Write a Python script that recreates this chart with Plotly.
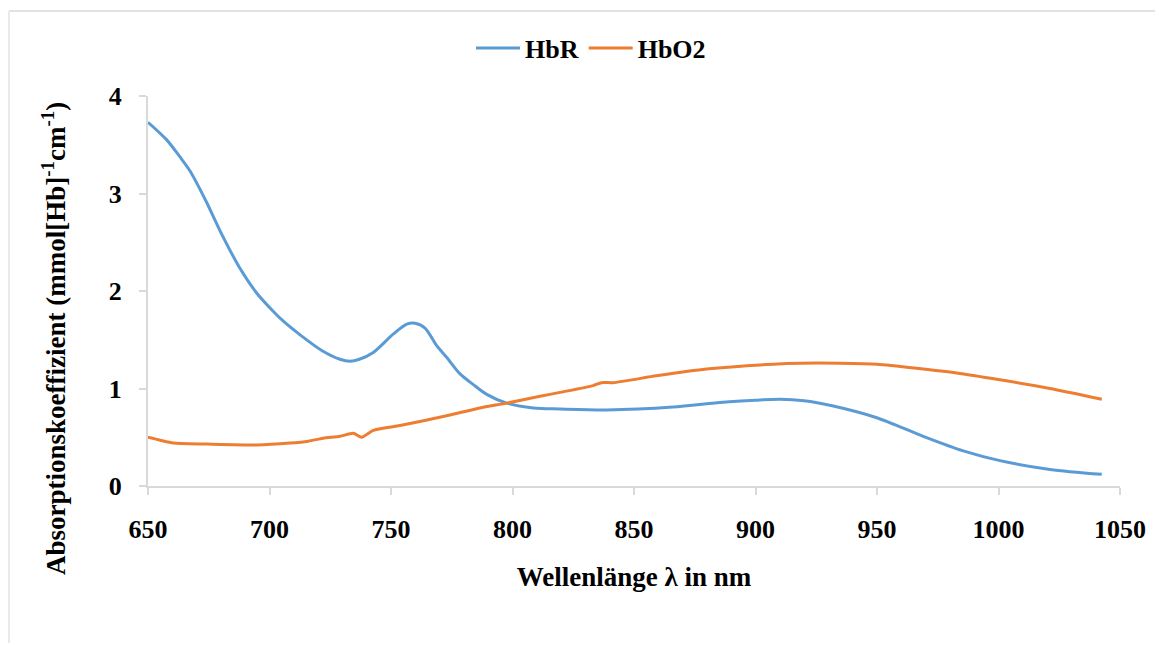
import plotly.graph_objects as go

# HbR (deoxy-hemoglobin) absorption coefficient
hbr_wl = [650, 657.7, 663, 667.3, 674.1, 679.6, 687.9, 694.7, 701.6, 705.7, 712.6, 721.5, 729,
          733.1, 737, 742.7, 751, 756.5, 759.9, 764, 768.8, 772.9, 778.4, 783.9, 789.4,
          797.6, 808.6, 819.5, 838.7, 866, 886.6, 900, 910, 920, 932, 949.9, 969, 985.5,
          1000.6, 1021.2, 1042.5]
hbr_val = [3.73, 3.55, 3.38, 3.23, 2.91, 2.62, 2.23, 1.98, 1.79, 1.69, 1.55, 1.39, 1.30,
           1.28, 1.30, 1.37, 1.56, 1.66, 1.67, 1.62, 1.44, 1.32, 1.15, 1.04, 0.94,
           0.85, 0.80, 0.79, 0.78, 0.81, 0.86, 0.88, 0.89, 0.875, 0.82, 0.70, 0.51, 0.36,
           0.26, 0.17, 0.12]

# HbO2 (oxy-hemoglobin) absorption coefficient
hbo2_wl = [650, 655, 660.4, 674, 694.7, 708.4, 716, 722.1, 729, 734.5, 737.9, 742.7,
           753.7, 772.9, 786.6, 797.6, 811.3, 819.5, 833.2, 836.6, 841.4, 859.2, 879.8,
           907.3, 918.3, 934.8, 949.9, 982.8, 1000.6, 1021.2, 1042.5]
hbo2_val = [0.50, 0.47, 0.44, 0.43, 0.42, 0.44, 0.46, 0.49, 0.51, 0.54, 0.50, 0.57,
            0.62, 0.72, 0.80, 0.85, 0.92, 0.96, 1.03, 1.06, 1.06, 1.13, 1.20,
            1.25, 1.26, 1.26, 1.25, 1.16, 1.09, 1.00, 0.89]

x_ticks = [650, 700, 750, 800, 850, 900, 950, 1000, 1050]
y_ticks = [0, 1, 2, 3, 4]

FONT = "Liberation Serif"

# page body has an 8px margin: compensate so the plot area sits at 148..1120 x 96..486
OFF = 8
L, T, PW, PH = 148 - OFF, 96 - OFF, 972, 390
W, H = 1163, 645

def px(xp):  # page pixel x -> paper
    return (xp - 148) / PW

def py(yp):  # page pixel y -> paper
    return (486 - yp) / PH

fig = go.Figure()
fig.add_trace(go.Scatter(x=hbr_wl, y=hbr_val, mode="lines", name="<b>HbR</b>",
                         line=dict(color="#5B9BD5", width=3, shape="spline", smoothing=0.8)))
fig.add_trace(go.Scatter(x=hbo2_wl, y=hbo2_val, mode="lines", name="<b>HbO2</b>",
                         line=dict(color="#ED7D31", width=3, shape="spline", smoothing=0.6)))

axis_common = dict(showgrid=False, zeroline=False, showline=True, linecolor="#d9d9d9",
                   linewidth=2, ticks="outside", tickcolor="#d9d9d9", ticklen=7, tickwidth=2,
                   tickfont=dict(family=FONT, size=26, color="black"))

fig.update_xaxes(range=[650, 1050], tickvals=x_ticks, ticktext=[f"<b>{v}</b>" for v in x_ticks],
                 ticklabelstandoff=12,
                 title=dict(text="<b>Wellenlänge λ in nm</b>",
                            font=dict(family=FONT, size=27, color="black"), standoff=24),
                 **axis_common)
fig.update_yaxes(range=[0, 4], tickvals=y_ticks, ticktext=[f"<b>{v}</b>" for v in y_ticks],
                 ticklabelstandoff=12, **axis_common)

fig.add_annotation(text="<b>Absorptionskoeffizient (mmol[Hb]<sup>-1</sup>cm<sup>-1</sup>)</b>",
                   xref="paper", yref="paper", x=px(54), y=py(339),
                   xanchor="center", yanchor="middle", textangle=-90, showarrow=False,
                   font=dict(family=FONT, size=27, color="black"))

# outer chart border (top and left visible)
fig.add_shape(type="line", xref="paper", yref="paper",
              x0=px(9), x1=px(1175), y0=py(11), y1=py(11),
              line=dict(color="#d9d9d9", width=1.5))
fig.add_shape(type="line", xref="paper", yref="paper",
              x0=px(9), x1=px(9), y0=py(11), y1=py(643),
              line=dict(color="#e3e3e3", width=1.5))

fig.update_layout(
    width=W, height=H,
    margin=dict(l=L, r=W - L - PW, t=T, b=H - T - PH, autoexpand=False),
    paper_bgcolor="white", plot_bgcolor="white",
    showlegend=True,
    legend=dict(orientation="h", x=px(591), xanchor="center", y=py(48), yanchor="middle",
                font=dict(family=FONT, size=26, color="black"),
                itemwidth=44, traceorder="normal"),
)

fig.write_html("out.html")
